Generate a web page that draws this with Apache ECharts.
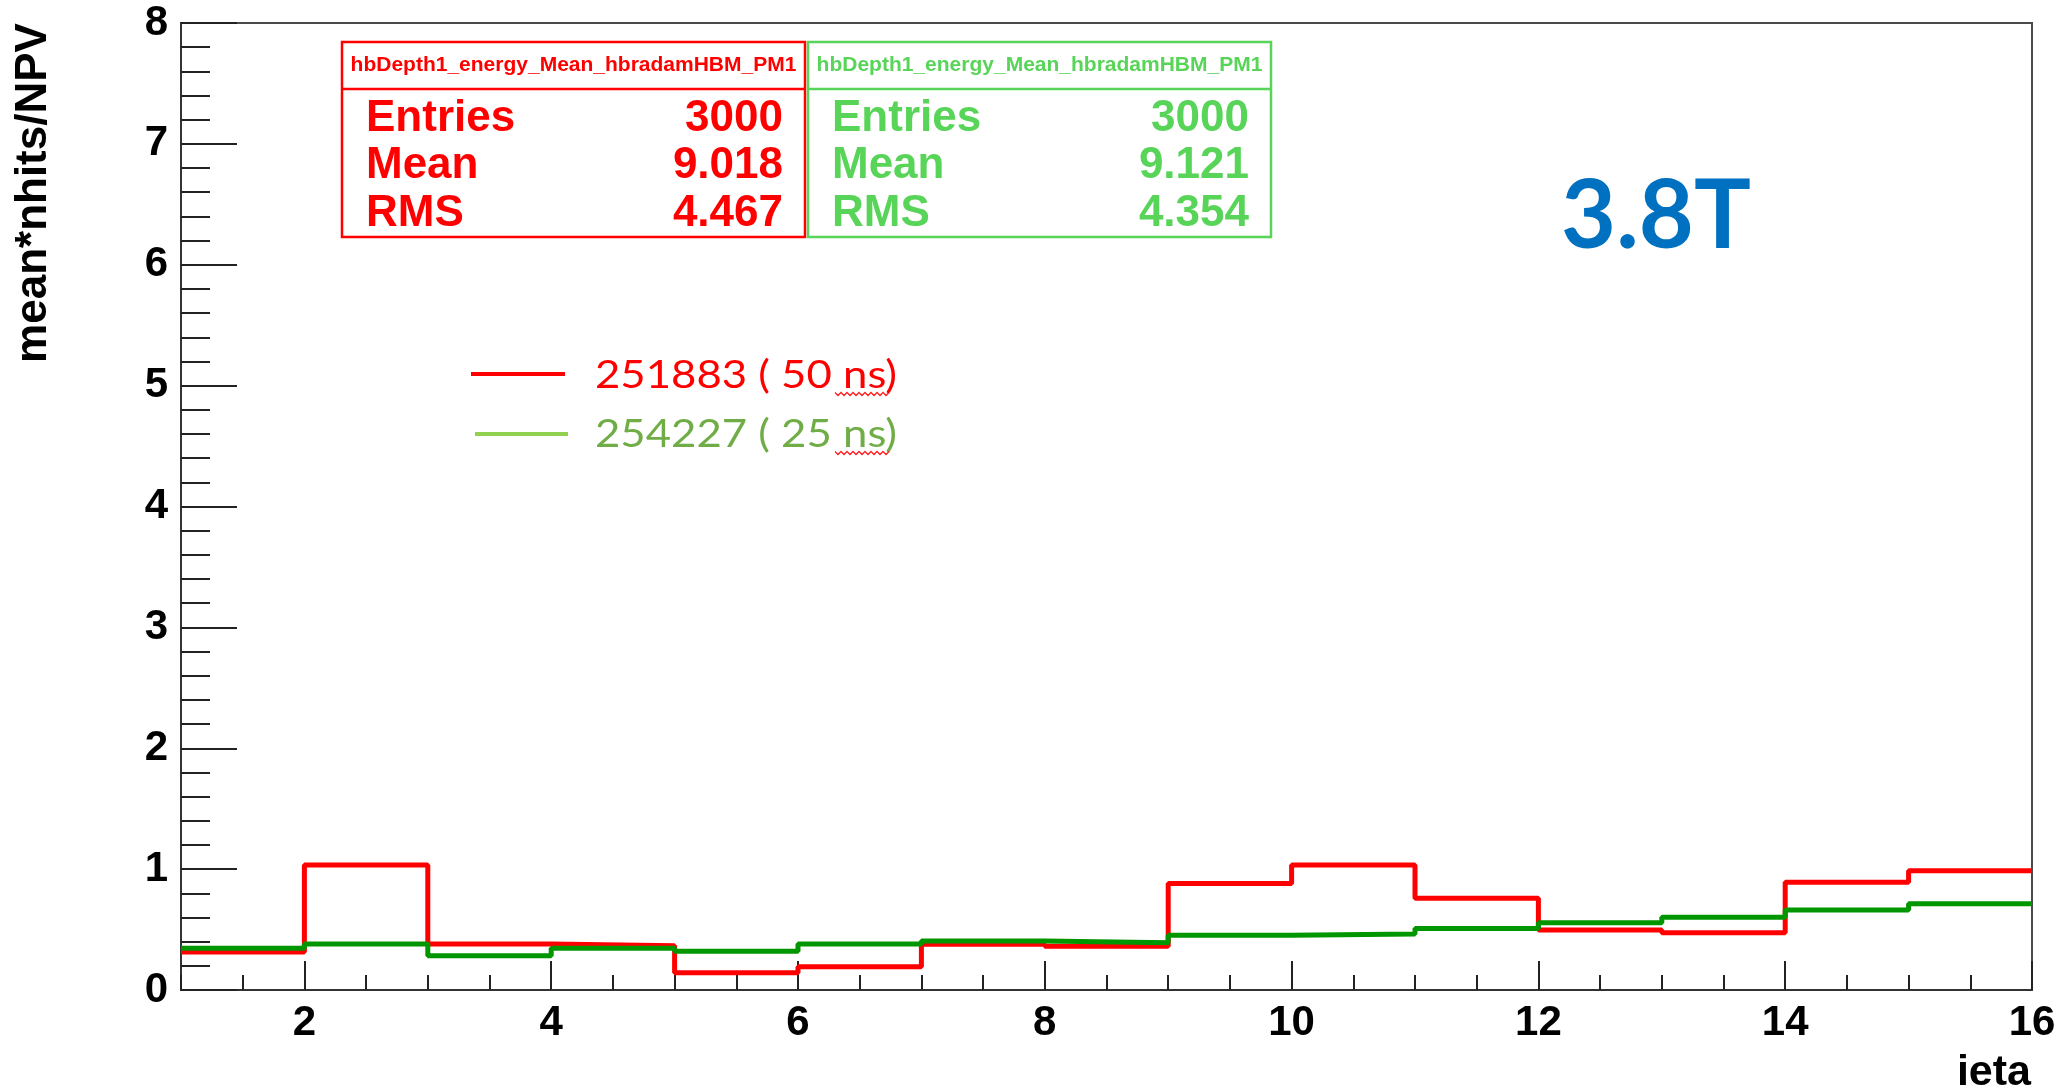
<!DOCTYPE html>
<html>
<head>
<meta charset="utf-8">
<title>hbDepth1 energy mean vs ieta</title>
<script src="https://cdn.jsdelivr.net/npm/echarts@6/dist/echarts.min.js"></script>
<style>
  html, body { margin: 0; padding: 0; background: #ffffff; }
  #chart { width: 2063px; height: 1087px; }
</style>
</head>
<body>
<div id="chart"></div>
<script>
// ieta bin edges (15 bins from 1 to 16)
const binEdges = [1, 2, 3, 4, 5, 6, 7, 8, 9, 10, 11, 12, 13, 14, 15, 16];
// mean*nhits/NPV per ieta bin
const run251883 = [0.314, 1.034, 0.381, 0.367, 0.143, 0.193, 0.378, 0.361, 0.882, 1.034, 0.760, 0.496, 0.474, 0.891, 0.987];
const run254227 = [0.345, 0.381, 0.284, 0.345, 0.320, 0.380, 0.405, 0.391, 0.452, 0.463, 0.508, 0.557, 0.601, 0.662, 0.714];
// labelled x ticks
const xMajorTicks = [2, 4, 6, 8, 10, 12, 14, 16];
// statistics boxes
const statNames = ['Entries', 'Mean', 'RMS'];
const stats251883 = ['3000', '9.018', '4.467'];
const stats254227 = ['3000', '9.121', '4.354'];
const histTitle = 'hbDepth1_energy_Mean_hbradamHBM_PM1';
const legendTexts = ['251883 ( 50 ns)', '254227 ( 25 ns)'];

const RED = '#ff0000';
const DARKGREEN = '#009600';
const STATGREEN = '#58d458';

// histogram outline: one point per lower bin edge plus the closing edge
function histPoints(values) {
  const pts = values.map((v, i) => [binEdges[i], v]);
  pts.push([binEdges[binEdges.length - 1], values[values.length - 1]]);
  return pts;
}

function statBox(x, color, values) {
  const w = 463, top = 42, h = 195;
  const els = [
    { type: 'rect', shape: { x: x, y: top, width: w, height: h },
      style: { fill: '#fff', stroke: color, lineWidth: 2.5 } },
    { type: 'line', shape: { x1: x, y1: 89, x2: x + w, y2: 89 },
      style: { stroke: color, lineWidth: 2.5 } },
    { type: 'text', x: x + w / 2, y: 65,
      style: { text: histTitle, fill: color, font: 'bold 21px "Liberation Sans", Arial, sans-serif',
               textAlign: 'center', textVerticalAlign: 'middle' } }
  ];
  const rowY = [119, 166, 214];
  statNames.forEach((n, i) => {
    els.push({ type: 'text', x: x + 24, y: rowY[i],
      style: { text: n, fill: color, font: 'bold 44px "Liberation Sans", Arial, sans-serif',
               textAlign: 'left', textVerticalAlign: 'middle' } });
    els.push({ type: 'text', x: x + w - 22, y: rowY[i],
      style: { text: values[i], fill: color, font: 'bold 44px "Liberation Sans", Arial, sans-serif',
               textAlign: 'right', textVerticalAlign: 'middle' } });
  });
  return els;
}

// spell-check style wavy underline
function squiggle(x0, x1, y, color) {
  const pts = [];
  let up = true;
  for (let x = x0; x <= x1; x += 3) { pts.push([x, up ? y - 1.5 : y + 1.5]); up = !up; }
  return { type: 'polyline', shape: { points: pts }, style: { stroke: color, lineWidth: 1.3, fill: null } };
}

const chart = echarts.init(document.getElementById('chart'), null, { renderer: 'canvas' });

const axisFont = { fontFamily: '"Liberation Sans", Arial, sans-serif', fontWeight: 'bold', fontSize: 42, color: '#000' };

const option = {
  animation: false,
  backgroundColor: '#ffffff',
  grid: { left: 181, top: 23, right: 31, bottom: 97, show: true, borderColor: '#4a4a4a', borderWidth: 2, containLabel: false },
  xAxis: [
    {
      type: 'value', min: 1, max: 16, interval: 0.5,
      axisLine: { show: true, lineStyle: { color: '#333', width: 2 } },
      axisTick: { show: true, inside: true, length: 15, lineStyle: { color: '#222', width: 2 } },
      axisLabel: { show: false },
      splitLine: { show: false }
    },
    {
      type: 'value', min: 1, max: 16, interval: 0.5, position: 'bottom', offset: 0,
      axisLine: { show: false },
      axisTick: { show: true, inside: true, length: 29, customValues: xMajorTicks, lineStyle: { color: '#222', width: 2 } },
      axisLabel: Object.assign({ show: true, margin: 12, customValues: xMajorTicks,
        formatter: v => (xMajorTicks.indexOf(v) >= 0 ? String(v) : '') }, axisFont),
      splitLine: { show: false }
    }
  ],
  yAxis: {
    type: 'value', min: 0, max: 8, interval: 1,
    axisLine: { show: true, lineStyle: { color: '#333', width: 2 } },
    axisTick: { show: true, inside: true, length: 56, lineStyle: { color: '#222', width: 2 } },
    minorTick: { show: true, splitNumber: 5, length: 29, lineStyle: { color: '#222', width: 2 } },
    axisLabel: Object.assign({ margin: 13 }, axisFont),
    splitLine: { show: false }
  },
  series: [
    {
      name: '251883', type: 'line', step: 'end', xAxisIndex: 0,
      data: histPoints(run251883), showSymbol: false, symbol: 'none',
      lineStyle: { color: RED, width: 5 }, z: 3
    },
    {
      name: '254227', type: 'line', step: 'end', xAxisIndex: 0,
      data: histPoints(run254227), showSymbol: false, symbol: 'none',
      lineStyle: { color: DARKGREEN, width: 5 }, z: 4
    }
  ],
  graphic: [
    // axis titles
    { type: 'text', x: 34, y: 193, rotation: Math.PI / 2,
      style: { text: 'mean*nhits/NPV', fill: '#000', font: 'bold 44px "Liberation Sans", Arial, sans-serif',
               textAlign: 'center', textVerticalAlign: 'middle' } },
    { type: 'text', x: 2031, y: 1073,
      style: { text: 'ieta', fill: '#000', font: 'bold 43px "Liberation Sans", Arial, sans-serif',
               textAlign: 'right', textVerticalAlign: 'middle' } },
    // statistics boxes
    ...statBox(342, RED, stats251883),
    ...statBox(808, STATGREEN, stats254227),
    // run legend
    { type: 'line', shape: { x1: 471, y1: 374, x2: 565, y2: 374 }, style: { stroke: RED, lineWidth: 4 } },
    { type: 'line', shape: { x1: 475, y1: 434, x2: 568, y2: 434 }, style: { stroke: '#92d050', lineWidth: 4 } },
    { type: 'text', x: 595, y: 376, scaleX: 1.15,
      style: { text: legendTexts[0], fill: RED, font: '38px Lato, "Open Sans", sans-serif',
               textAlign: 'left', textVerticalAlign: 'middle' } },
    { type: 'text', x: 595, y: 435, scaleX: 1.15,
      style: { text: legendTexts[1], fill: '#70ad47', font: '38px Lato, "Open Sans", sans-serif',
               textAlign: 'left', textVerticalAlign: 'middle' } },
    squiggle(835, 889, 394, '#ff2020'),
    squiggle(835, 889, 453, '#ff2020'),
    // field label
    { type: 'text', x: 1656, y: 217,
      style: { text: '3.8T', fill: '#0070c0', font: 'bold 95px Lato, "Open Sans", sans-serif',
               textAlign: 'center', textVerticalAlign: 'middle' } }
  ]
};

chart.setOption(option);
</script>
</body>
</html>
